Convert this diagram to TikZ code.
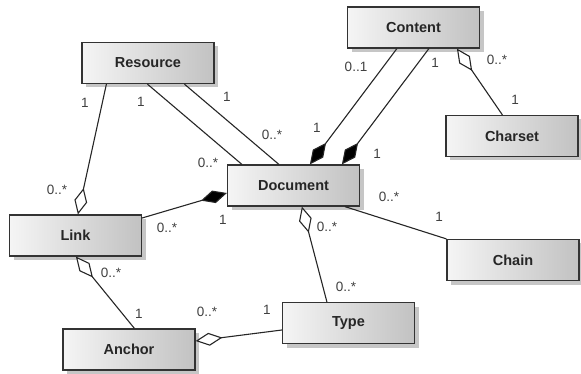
\documentclass[tikz,border=0pt]{standalone}
\usepackage{fontspec}
\setmainfont{Liberation Sans}
\usetikzlibrary{arrows.meta,shadows}
\begin{document}
\begin{tikzpicture}[x=1pt,y=-1pt,
  cls/.style={draw=black!80, line width=1.2pt, minimum width=132pt, minimum height=41pt,
    inner sep=0pt, left color=black!4, right color=black!24,
    drop shadow={shadow xshift=4pt, shadow yshift=-4pt, fill=black!28, opacity=0.8},
    font=\fontsize{14.5}{16}\selectfont\bfseries, text=black!85},
  conn/.style={draw=black!85, line width=1.1pt},
  comp/.style={conn, {Diamond[length=27pt,width=13pt,fill=black]}-},
  aggr/.style={conn, {Diamond[length=27pt,width=13pt,fill=white]}-},
  mult/.style={font=\fontsize{13.5}{15}\selectfont, text=black!75, inner sep=0pt}]
\useasboundingbox (0,0) rectangle (581,374);
\node[cls] (Resource) at (148,63) {Resource};
\node[cls] (Content) at (413.5,27.5) {Content};
\node[cls] (Charset) at (512,136) {Charset};
\node[cls] (Document) at (293.5,185.5) {Document};
\node[cls] (Link) at (75.5,235.5) {Link};
\node[cls] (Anchor) at (129,349.5) {Anchor};
\node[cls] (Type) at (348.5,323) {Type};
\node[cls] (Chain) at (513,260) {Chain};
% connectors
\draw[aggr] ([xshift=69pt]Link.north west) -- ([xshift=25pt]Resource.south west);
\draw[conn] ([xshift=66pt]Resource.south west) -- ([xshift=15pt]Document.north west);
\draw[conn] ([xshift=103pt]Resource.south west) -- ([xshift=52pt]Document.north west);
\draw[comp] ([xshift=83pt]Document.north west) -- ([xshift=50pt]Content.south west);
\draw[comp] ([xshift=115pt]Document.north west) -- ([xshift=82pt]Content.south west);
\draw[aggr] ([xshift=110pt]Content.south west) -- ([xshift=57pt]Charset.north west);
\draw[comp] ([yshift=-7.5pt]Document.west) -- ([yshift=17.5pt]Link.east);
\draw[conn] ([xshift=118pt]Document.south west) -- (Chain.north west);
\draw[aggr] ([xshift=75pt]Document.south west) -- ([xshift=45pt]Type.north west);
\draw[aggr] ([xshift=67pt]Link.south west) -- ([xshift=72pt]Anchor.north west);
\draw[aggr] ([yshift=8.5pt]Anchor.east) -- ([yshift=-7pt]Type.west);
% multiplicities
\node[mult] (m1) at (85,103) {1};
\node[mult] (m2) at (57,190) {0..*};
\node[mult] (m3) at (141,102) {1};
\node[mult] (m4) at (208,163) {0..*};
\node[mult] (m5) at (227,97) {1};
\node[mult] (m6) at (272,135) {0..*};
\node[mult] (m7) at (356,67) {0..1};
\node[mult] (m8) at (317,128) {1};
\node[mult] (m9) at (435,63) {1};
\node[mult] (m10) at (377,154) {1};
\node[mult] (m11) at (497,60) {0..*};
\node[mult] (m12) at (515,100) {1};
\node[mult] (m13) at (167,228) {0..*};
\node[mult] (m14) at (223,220) {1};
\node[mult] (m15) at (389,197) {0..*};
\node[mult] (m16) at (439,217) {1};
\node[mult] (m17) at (327,227) {0..*};
\node[mult] (m18) at (346,287) {0..*};
\node[mult] (m19) at (111,273) {0..*};
\node[mult] (m20) at (139,314) {1};
\node[mult] (m21) at (207,312) {0..*};
\node[mult] (m22) at (267,310) {1};
\end{tikzpicture}
\end{document}
